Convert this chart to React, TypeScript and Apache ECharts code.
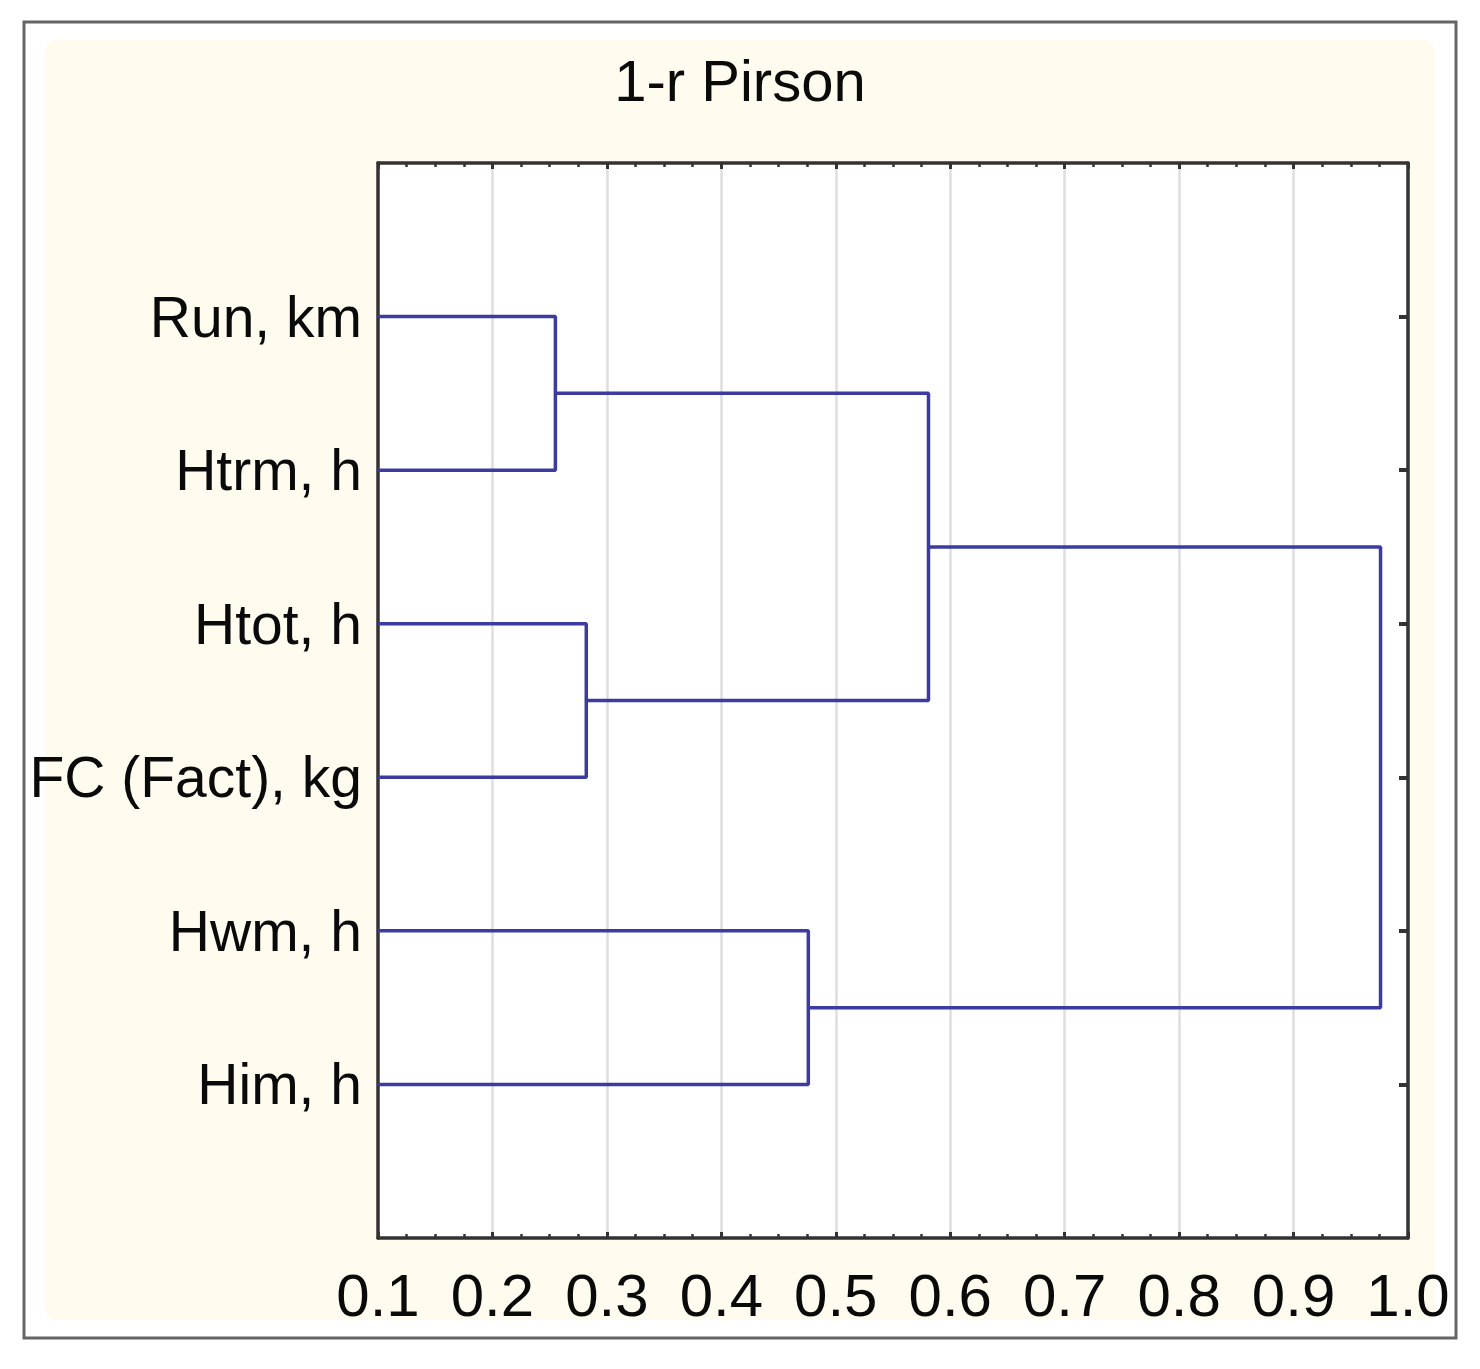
import React, { useEffect, useRef } from "react";
import * as echarts from "echarts";

const titleText = "1-r Pirson";
const leafNames = ["Run, km", "Htrm, h", "Htot, h", "FC (Fact), kg", "Hwm, h", "Him, h"];
// linkage: nodes 0..5 are leaves, node 6+k is produced by merge k
const mergeLeft = [0, 2, 4, 6, 9];
const mergeRight = [1, 3, 5, 7, 8];
const mergeHeight = [0.255, 0.282, 0.476, 0.581, 0.976];
const xMin = 0.1;
const xMax = 1.0;
const xStep = 0.1;
const leafSlots = leafNames.length + 1;

const FONT = "'Liberation Sans', Arial, sans-serif";
const LINE_COLOR = "#3b3ba0";
const AXIS_COLOR = "#333";

function buildSeries() {
  const nodeH: number[] = leafNames.map(() => xMin);
  const nodeY: number[] = leafNames.map((_, i) => i + 1);
  const series: any[] = [];
  mergeHeight.forEach((h, k) => {
    const l = mergeLeft[k];
    const r = mergeRight[k];
    series.push({
      type: "line",
      xAxisIndex: 0,
      yAxisIndex: 0,
      showSymbol: false,
      symbol: "none",
      silent: true,
      lineStyle: { color: LINE_COLOR, width: 3.5 },
      data: [
        [nodeH[l], nodeY[l]],
        [h, nodeY[l]],
        [h, nodeY[r]],
        [nodeH[r], nodeY[r]],
      ],
    });
    nodeH.push(h);
    nodeY.push((nodeY[l] + nodeY[r]) / 2);
  });
  return series;
}

export default function App() {
  const ref = useRef<HTMLDivElement>(null);
  useEffect(() => {
    document.body.style.margin = "0";
    const chart = echarts.init(ref.current!, null, { renderer: "svg" });
    const leafValues = leafNames.map((_, i) => i + 1);
    const xAxisCommon = {
      type: "value",
      min: xMin,
      max: xMax,
      interval: xStep,
      axisLine: { show: true, onZero: false, lineStyle: { color: AXIS_COLOR, width: 3.5 } },
      axisTick: { show: true, inside: true, length: 6, lineStyle: { color: AXIS_COLOR, width: 3 } },
      minorTick: { show: true, splitNumber: 4, length: 4, lineStyle: { color: AXIS_COLOR, width: 2.5 } },
    };
    chart.setOption({
      animation: false,
      backgroundColor: "#ffffff",
      title: {
        text: titleText,
        left: "center",
        top: 46,
        textStyle: { fontFamily: FONT, fontSize: 58, fontWeight: "normal", color: "#0a0a0a" },
      },
      graphic: [
        {
          type: "rect",
          z: -20,
          shape: { x: 24, y: 22, width: 1432, height: 1316 },
          style: { fill: "#ffffff", stroke: "#666", lineWidth: 3 },
        },
        {
          type: "rect",
          z: -19,
          shape: { x: 45, y: 40, width: 1390, height: 1280, r: 12 },
          style: { fill: "#fffbef" },
        },
      ],
      grid: {
        left: 378,
        top: 163,
        right: 72,
        bottom: 131,
        show: true,
        backgroundColor: "#ffffff",
        borderWidth: 0,
        outerBoundsMode: "none",
        containLabel: false,
      },
      xAxis: [
        {
          ...xAxisCommon,
          position: "bottom",
          axisLabel: {
            show: true,
            margin: 27,
            fontFamily: FONT,
            fontSize: 60,
            color: "#0a0a0a",
            formatter: (v: number) => v.toFixed(1),
          },
          splitLine: {
            show: true,
            showMinLine: false,
            showMaxLine: false,
            lineStyle: { color: "#dedede", width: 2.5 },
          },
        },
        {
          ...xAxisCommon,
          position: "top",
          axisLabel: { show: false },
          splitLine: { show: false },
        },
      ],
      yAxis: [
        {
          type: "value",
          inverse: true,
          min: 0,
          max: leafSlots,
          interval: 1,
          position: "left",
          axisLine: { show: true, onZero: false, lineStyle: { color: AXIS_COLOR, width: 3.5 } },
          axisTick: { show: false },
          splitLine: { show: false },
          axisLabel: {
            show: true,
            customValues: leafValues,
            margin: 16,
            fontFamily: FONT,
            fontSize: 57,
            color: "#0a0a0a",
            formatter: (v: number) => leafNames[Math.round(v) - 1] ?? "",
          },
        },
        {
          type: "value",
          inverse: true,
          min: 0,
          max: leafSlots,
          interval: 1,
          position: "right",
          axisLine: { show: true, onZero: false, lineStyle: { color: AXIS_COLOR, width: 3.5 } },
          axisTick: {
            show: true,
            inside: true,
            length: 9,
            customValues: leafValues,
            lineStyle: { color: AXIS_COLOR, width: 4 },
          },
          axisLabel: { show: false },
          splitLine: { show: false },
        },
      ],
      series: buildSeries(),
    });
    return () => chart.dispose();
  }, []);
  return <div ref={ref} style={{ width: 1480, height: 1369 }} />;
}
